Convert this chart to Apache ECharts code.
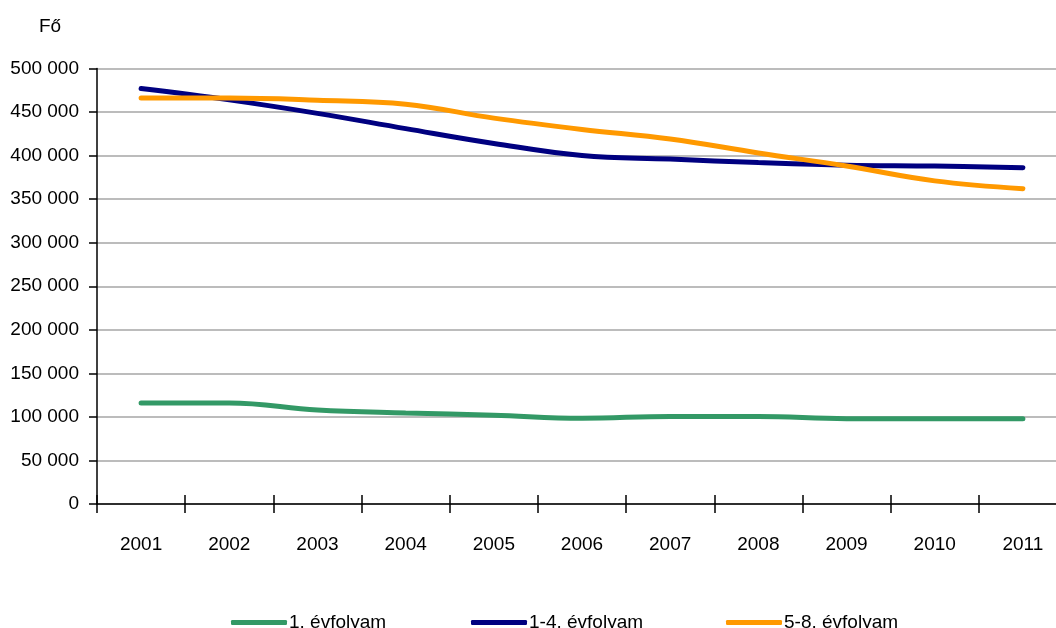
<!DOCTYPE html>
<html>
<head>
<meta charset="utf-8">
<script src="https://cdn.jsdelivr.net/npm/echarts@6/dist/echarts.min.js"></script>
<style>
html,body{margin:0;padding:0;background:#fff;overflow:hidden;}
#c{width:1067px;height:628px;}
</style>
</head>
<body>
<div id="c"></div>
<script>
const years = ['2001','2002','2003','2004','2005','2006','2007','2008','2009','2010','2011'];
const seriesNames = ['1. évfolyam','1-4. évfolyam','5-8. évfolyam'];
const grade1 = [116000,116000,108000,104500,102000,98500,100500,100500,98000,98000,98000];
const grade1to4 = [477000,464000,448500,431000,414000,400000,396000,392000,389000,388000,386000];
const grade5to8 = [466000,466000,463500,459000,443000,430000,419000,403000,388000,371000,362000];
const yTicks = [0,50000,100000,150000,200000,250000,300000,350000,400000,450000,500000];
const colors = ['#339966','#000080','#ff9900'];
const FONT = '"Liberation Sans",Arial,sans-serif';

function fmt(v){ return String(v).replace(/\B(?=(\d{3})+(?!\d))/g,' '); }

const chart = echarts.init(document.getElementById('c'), null, {renderer:'canvas'});
const dataSets = [grade1, grade1to4, grade5to8];
const legendLeft = [226, 466, 721];

chart.setOption({
  animation:false,
  backgroundColor:'#fff',
  title:{text:'Fő', left:34, top:12, textStyle:{fontFamily:FONT, fontSize:19, fontWeight:'normal', color:'#000'}},
  grid:{left:97, top:68.5, right:0, height:435.5, containLabel:false},
  legend: seriesNames.map((n,i)=>({
    data:[n], left:legendLeft[i], top:608, itemWidth:56, itemHeight:5, itemGap:0,
    icon:'roundRect',
    textStyle:{fontFamily:FONT, fontSize:19, color:'#000', padding:[0,0,0,-3]}
  })),
  xAxis:[{
    type:'category', data:years, boundaryGap:true,
    axisLine:{lineStyle:{color:'#000', width:1.5}},
    axisTick:{show:true, length:9, lineStyle:{color:'#000', width:1.5}},
    axisLabel:{fontFamily:FONT, fontSize:19, color:'#000', margin:31},
    splitLine:{show:false}
  },{
    type:'category', data:years, boundaryGap:true, position:'bottom',
    axisLine:{show:false},
    axisTick:{show:true, inside:true, length:9, lineStyle:{color:'#000', width:1.5}},
    axisLabel:{show:false}, splitLine:{show:false}
  }],
  yAxis:{
    type:'value', min:0, max:500000, interval:50000,
    axisLine:{show:true, lineStyle:{color:'#000', width:1.5}},
    axisTick:{show:true, length:8, lineStyle:{color:'#000', width:1.5}},
    axisLabel:{fontFamily:FONT, fontSize:19, color:'#000', margin:18, formatter:v=>fmt(v)},
    splitLine:{show:true, lineStyle:{color:'#a6a6a6', width:1.5}}
  },
  series: seriesNames.map((n,i)=>({
    name:n, type:'line', data:dataSets[i], smooth:0.4, symbol:'none',
    lineStyle:{color:colors[i], width:5, cap:'round'},
    itemStyle:{color:colors[i]}
  }))
});
</script>
</body>
</html>
